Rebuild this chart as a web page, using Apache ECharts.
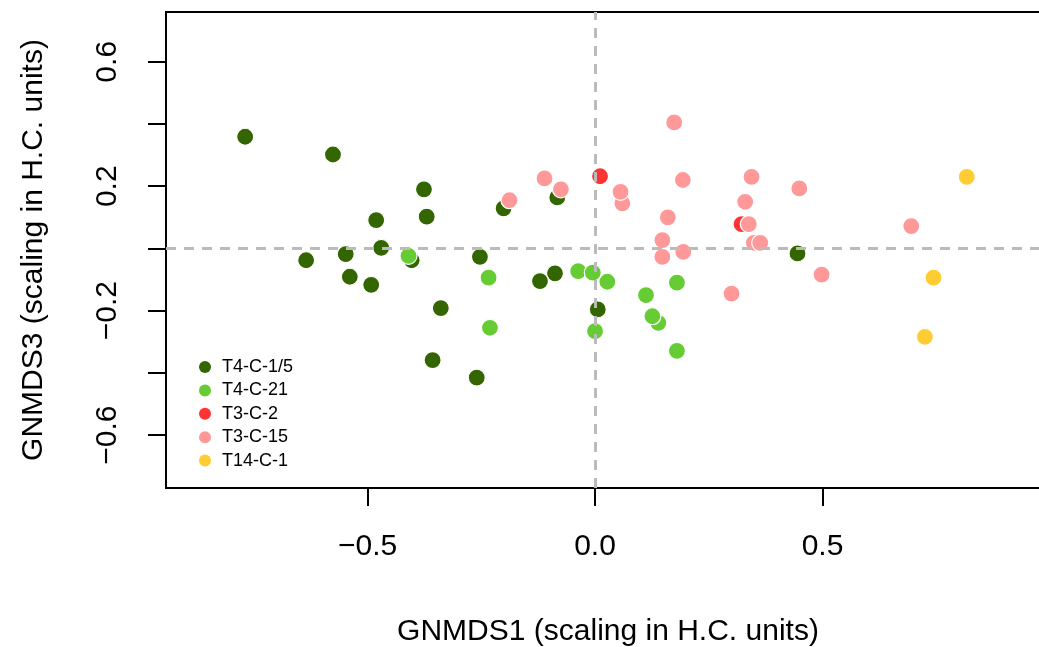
<!DOCTYPE html>
<html>
<head>
<meta charset="utf-8">
<script src="https://cdn.jsdelivr.net/npm/echarts@6/dist/echarts.min.js"></script>
<style>
html,body{margin:0;padding:0;background:#fff;}
#chart{width:1039px;height:647px;}
</style>
</head>
<body>
<div id="chart"></div>
<script>
// ---- data (GNMDS1, GNMDS3) ----
const groupNames = ["T4-C-1/5", "T4-C-21", "T3-C-2", "T3-C-15", "T14-C-1"];
const groupColors = ["#336600", "#66cc33", "#ff3333", "#ff9999", "#ffcc33"];

const t4c15 = [
  [-0.769, 0.359], [-0.576, 0.302], [-0.376, 0.190], [-0.370, 0.102], [-0.481, 0.091],
  [-0.470, 0.002], [-0.548, -0.018], [-0.635, -0.038], [-0.539, -0.091], [-0.492, -0.117],
  [-0.339, -0.192], [-0.357, -0.359], [-0.403, -0.038], [-0.253, -0.027], [-0.201, 0.129],
  [-0.083, 0.164], [-0.088, -0.080], [-0.121, -0.105], [-0.260, -0.415], [0.006, -0.196],
  [0.445, -0.016]
];
const t4c21 = [
  [-0.410, -0.024], [-0.234, -0.094], [-0.231, -0.255], [-0.037, -0.073], [-0.005, -0.078],
  [0.027, -0.107], [0.000, -0.266], [0.112, -0.150], [0.139, -0.239], [0.126, -0.218],
  [0.180, -0.110], [0.180, -0.329]
];
const t3c2 = [
  [0.011, 0.232], [0.322, 0.078]
];
const t3c15 = [
  [-0.111, 0.225], [-0.075, 0.190], [-0.188, 0.155], [0.060, 0.145], [0.056, 0.182],
  [0.174, 0.405], [0.193, 0.220], [0.160, 0.100], [0.148, -0.027], [0.148, 0.027],
  [0.194, -0.011], [0.344, 0.230], [0.449, 0.193], [0.330, 0.150], [0.338, 0.078],
  [0.349, 0.018], [0.363, 0.018], [0.498, -0.084], [0.300, -0.145], [0.695, 0.072]
];
const t14c1 = [
  [0.817, 0.230], [0.744, -0.094], [0.725, -0.284]
];
const groups = [t4c15, t4c21, t3c2, t3c15, t14c1];

const xTicks = [-0.5, 0, 0.5];
const yTicks = [-0.6, -0.4, -0.2, 0, 0.2, 0.4, 0.6];
const yLabels = [-0.6, -0.2, 0.2, 0.6];
const xTitle = "GNMDS1 (scaling in H.C. units)";
const yTitle = "GNMDS3 (scaling in H.C. units)";

const FONT = "'Liberation Sans', Arial, sans-serif";
const fmt = v => {
  const s = Math.abs(v) < 1e-9 ? "0.0" : v.toFixed(1);
  return s.replace("-", "\u2212");
};

const series = groups.map((g, i) => ({
  name: groupNames[i],
  type: "scatter",
  data: g,
  symbol: "circle",
  symbolSize: 17,
  itemStyle: { color: groupColors[i], borderColor: "#ffffff", borderWidth: 1.2, opacity: 1 },
  z: 2,
  silent: true
}));
series.push({
  type: "scatter",
  data: [],
  z: 10,
  silent: true,
  markLine: {
    silent: true,
    symbol: ["none", "none"],
    label: { show: false },
    animation: false,
    lineStyle: { color: "#bbbbbb", width: 3, type: [10, 8] },
    data: [{ xAxis: 0 }, { yAxis: 0 }]
  }
});

const chart = echarts.init(document.getElementById("chart"), null, { renderer: "canvas" });
chart.setOption({
  animation: false,
  backgroundColor: "#ffffff",
  grid: {
    left: 166, top: 12, width: 884, height: 476,
    outerBoundsMode: "none",
    containLabel: false,
    show: true, borderColor: "#000", borderWidth: 2, backgroundColor: "transparent"
  },
  legend: {
    data: groupNames,
    orient: "vertical",
    left: 199, top: 358,
    padding: 0,
    itemWidth: 24, itemHeight: 12, itemGap: 5.4,
    icon: "circle",
    itemStyle: { borderWidth: 0 },
    textStyle: { fontFamily: FONT, fontSize: 18, lineHeight: 18, color: "#000" },
    selectedMode: false
  },
  xAxis: {
    type: "value", min: -0.943, max: 1.0,
    axisLine: { show: true, onZero: false, lineStyle: { color: "#000", width: 2 } },
    axisTick: { show: true, length: 18, lineStyle: { color: "#000", width: 2 }, customValues: xTicks },
    axisLabel: { customValues: xTicks, formatter: fmt, fontFamily: FONT, fontSize: 30, color: "#000", margin: 44 },
    splitLine: { show: false },
    name: xTitle, nameLocation: "middle", nameGap: 129,
    nameTextStyle: { fontFamily: FONT, fontSize: 30, color: "#000" }
  },
  yAxis: {
    type: "value", min: -0.77, max: 0.76,
    axisLine: { show: true, onZero: false, lineStyle: { color: "#000", width: 2 } },
    axisTick: { show: true, length: 18, lineStyle: { color: "#000", width: 2 }, customValues: yTicks },
    axisLabel: { customValues: yLabels, formatter: fmt, fontFamily: FONT, fontSize: 30, color: "#000", margin: 43, rotate: 90 },
    splitLine: { show: false },
    name: yTitle, nameLocation: "middle", nameGap: 117, nameRotate: 90,
    nameTextStyle: { fontFamily: FONT, fontSize: 30, color: "#000" }
  },
  series: series
});
</script>
</body>
</html>
